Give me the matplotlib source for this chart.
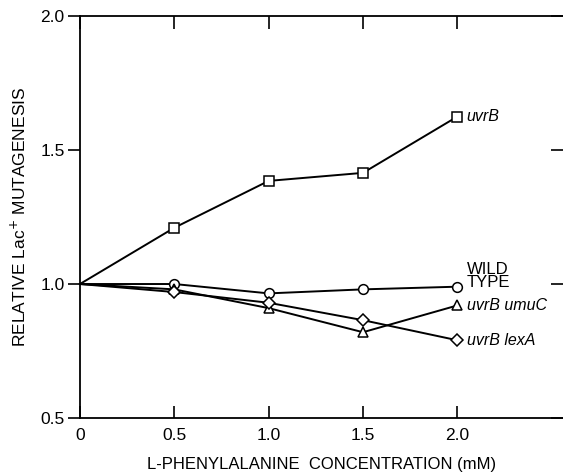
import matplotlib.pyplot as plt
import numpy as np

conc = [0, 0.5, 1.0, 1.5, 2.0]
uvrB = [1.0, 1.21, 1.385, 1.415, 1.625]
wild_type = [1.0, 1.0, 0.965, 0.98, 0.99]
uvrB_umuC = [1.0, 0.98, 0.91, 0.82, 0.92]
uvrB_lexA = [1.0, 0.97, 0.93, 0.865, 0.79]

x_ticks = [0, 0.5, 1.0, 1.5, 2.0]
x_ticklabels = ["0", "0.5", "1.0", "1.5", "2.0"]
y_ticks = [0.5, 1.0, 1.5, 2.0]

plt.rcParams['font.family'] = ['Liberation Sans', 'DejaVu Sans']

fig = plt.figure(figsize=(5.63, 4.76), dpi=100)
ax = fig.add_axes([0.142, 0.122, 0.858, 0.844])

# no marker at the origin, lines just meet on the axis
style = dict(color="black", lw=1.4, mfc="white", mec="black", mew=1.1,
             markevery=[1, 2, 3, 4], clip_on=False)
ax.plot(conc, uvrB, marker="s", ms=7, **style)
ax.plot(conc, wild_type, marker="o", ms=7, **style)
ax.plot(conc, uvrB_umuC, marker="^", ms=7.5, **style)
ax.plot(conc, uvrB_lexA, marker="D", ms=6, **style)

ax.text(2.05, uvrB[-1], "uvrB", style="italic", fontsize=11.5, va="center")
ax.text(2.05, wild_type[-1] + 0.04, "WILD\nTYPE", fontsize=12, va="center", linespacing=0.8)
ax.text(2.05, uvrB_umuC[-1], "uvrB umuC", style="italic", fontsize=11.5, va="center")
ax.text(2.05, uvrB_lexA[-1], "uvrB lexA", style="italic", fontsize=11.5, va="center")

ax.set_xlim(0, 2.56)
ax.set_ylim(0.5, 2.0)
ax.set_xticks(x_ticks)
ax.set_xticklabels(x_ticklabels, fontsize=12.5)
ax.set_yticks(y_ticks)
ax.set_yticklabels(["0.5", "1.0", "1.5", "2.0"], fontsize=12.5)
ax.tick_params(axis="x", direction="in", length=9, width=1.2, top=True, pad=7)
ax.tick_params(axis="y", direction="out", length=9, width=1.2, pad=2)
ax.tick_params(axis="y", which="major", right=True)
for t in ax.yaxis.get_ticklines()[1::2]:
    t.set_marker(0)  # right-side ticks point inward
for s in ax.spines.values():
    s.set_linewidth(1.3)
ax.spines["right"].set_visible(False)

ax.set_xlabel("L-PHENYLALANINE  CONCENTRATION (mM)", fontsize=12, labelpad=10)
ax.set_ylabel("RELATIVE Lac$^{+}$ MUTAGENESIS", fontsize=12.5, labelpad=8)

fig.savefig("out.png", dpi=100)
